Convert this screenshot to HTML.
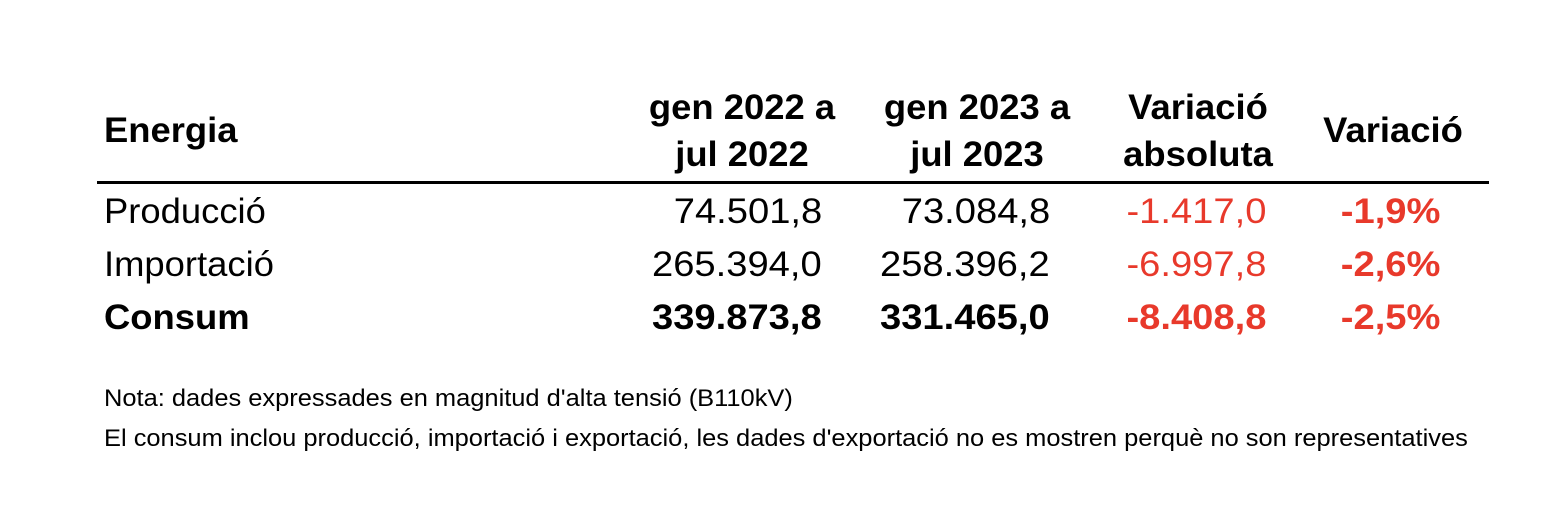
<!DOCTYPE html>
<html><head><meta charset="utf-8"><style>
body{margin:0;width:1555px;height:517px;background:#fff;font-family:"Liberation Sans",Arial,sans-serif;color:#000;position:relative;overflow:hidden}
.t{position:absolute;white-space:nowrap;font-size:35px;line-height:40px}
.b{font-weight:bold}
.r{color:#e8392b}
.l{transform-origin:left center;transform:scaleX(1.04)}
.c{text-align:center;line-height:47px;transform:translateX(-50%) scaleX(1.04)}
.ra{transform-origin:right center;transform:scaleX(1.09);text-align:right}
.n{position:absolute;font-size:24px;line-height:30px;white-space:nowrap;transform-origin:left center;transform:scaleX(1.06)}
</style></head><body>
<div class="t b l" style="left:104px;top:111px">Energia</div>
<div class="t b c" style="left:742px;top:84px">gen 2022 a<br>jul 2022</div>
<div class="t b c" style="left:977px;top:84px">gen 2023 a<br>jul 2023</div>
<div class="t b c" style="left:1198px;top:84px">Variació<br>absoluta</div>
<div class="t b c" style="left:1393px;top:107px">Variació</div>
<div style="position:absolute;left:97px;top:181px;width:1392px;height:3px;background:#000"></div>

<div class="t l" style="left:104px;top:192px">Producció</div>
<div class="t ra" style="right:733px;top:192px">74.501,8</div>
<div class="t ra" style="right:505px;top:192px">73.084,8</div>
<div class="t ra r" style="right:289px;top:192px">-1.417,0</div>
<div class="t ra r b" style="right:115px;top:192px">-1,9%</div>

<div class="t l" style="left:104px;top:245px">Importació</div>
<div class="t ra" style="right:733px;top:245px">265.394,0</div>
<div class="t ra" style="right:505px;top:245px">258.396,2</div>
<div class="t ra r" style="right:289px;top:245px">-6.997,8</div>
<div class="t ra r b" style="right:115px;top:245px">-2,6%</div>

<div class="t b l" style="left:104px;top:298px">Consum</div>
<div class="t b ra" style="right:733px;top:298px">339.873,8</div>
<div class="t b ra" style="right:505px;top:298px">331.465,0</div>
<div class="t b ra r" style="right:289px;top:298px">-8.408,8</div>
<div class="t b ra r" style="right:115px;top:298px">-2,5%</div>

<div class="n" style="left:104px;top:384px">Nota: dades expressades en magnitud d'alta tensió (B110kV)</div>
<div class="n" style="left:104px;top:424px">El consum inclou producció, importació i exportació, les dades d'exportació no es mostren perquè no son representatives</div>
</body></html>
